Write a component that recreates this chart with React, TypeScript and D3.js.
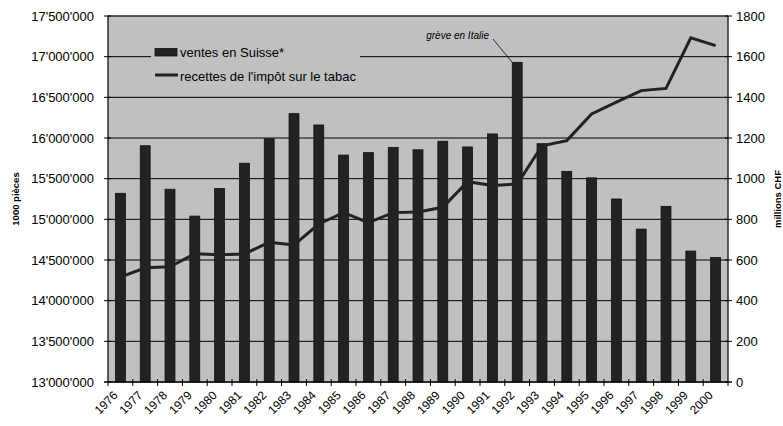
import { useEffect, useRef } from "react";
import * as d3 from "d3";

// Ventes de cigarettes en Suisse et recettes de l'impôt sur le tabac
const years = [
  "1976", "1977", "1978", "1979", "1980", "1981", "1982", "1983", "1984",
  "1985", "1986", "1987", "1988", "1989", "1990", "1991", "1992", "1993",
  "1994", "1995", "1996", "1997", "1998", "1999", "2000",
];

// 1000 pièces
const ventes = [
  15320000, 15905000, 15370000, 15040000, 15380000, 15690000, 15990000,
  16300000, 16160000, 15790000, 15820000, 15885000, 15855000, 15960000,
  15890000, 16050000, 16930000, 15930000, 15590000, 15510000, 15250000,
  14880000, 15160000, 14610000, 14530000,
];

// millions CHF
const recettes = [
  516, 562, 567, 631, 626, 630, 687, 674, 777, 833, 784, 833, 836, 859,
  985, 966, 974, 1162, 1187, 1318, 1376, 1433, 1444, 1693, 1654,
];

const leftTicks = [
  13000000, 13500000, 14000000, 14500000, 15000000, 15500000, 16000000,
  16500000, 17000000, 17500000,
];
const rightTicks = [0, 200, 400, 600, 800, 1000, 1200, 1400, 1600, 1800];

const CONFIG = {
  WIDTH: 783,
  HEIGHT: 426,
  MARGIN: { top: 16, right: 55, bottom: 44, left: 108 },
  FONT: "'Liberation Sans', Arial, Helvetica, sans-serif",
  PLOT_BG: "#c0c0c0",
  DARK: "#222222",
} as const;

const swiss = d3.formatLocale({
  decimal: ".",
  thousands: "'",
  grouping: [3],
  currency: ["", ""],
});
const fmtLeft = swiss.format(",");

export default function App() {
  const svgRef = useRef<SVGSVGElement>(null);

  useEffect(() => {
    if (!svgRef.current) return;
    const svg = d3.select(svgRef.current);
    svg.selectAll("*").remove();

    const { WIDTH, HEIGHT, MARGIN, FONT, PLOT_BG, DARK } = CONFIG;
    const x0 = MARGIN.left;
    const x1 = WIDTH - MARGIN.right;
    const y0 = HEIGHT - MARGIN.bottom;
    const y1 = MARGIN.top;

    const x = d3.scaleBand<string>().domain(years).range([x0, x1]).padding(0);
    const yL = d3.scaleLinear().domain([13000000, 17500000]).range([y0, y1]);
    const yR = d3.scaleLinear().domain([0, 1800]).range([y0, y1]);
    const barW = x.bandwidth() * 0.4;
    const cx = (d: string) => (x(d) ?? 0) + x.bandwidth() / 2;

    // plot background
    svg
      .append("rect")
      .attr("x", x0)
      .attr("y", y1)
      .attr("width", x1 - x0)
      .attr("height", y0 - y1)
      .attr("fill", PLOT_BG)
      .attr("stroke", "#808080")
      .attr("stroke-width", 1);

    // gridlines
    svg
      .append("g")
      .selectAll("line")
      .data(leftTicks)
      .enter()
      .append("line")
      .attr("x1", x0)
      .attr("x2", x1)
      .attr("y1", (d) => yL(d))
      .attr("y2", (d) => yL(d))
      .attr("stroke", "#000")
      .attr("stroke-width", 1);

    // legend box hides part of the grid
    const legend = svg.append("g");
    legend
      .append("rect")
      .attr("x", 151)
      .attr("y", 40)
      .attr("width", 209)
      .attr("height", 50)
      .attr("fill", PLOT_BG);

    // bars
    svg
      .append("g")
      .selectAll("rect")
      .data(years)
      .enter()
      .append("rect")
      .attr("x", (d) => cx(d) - barW / 2)
      .attr("width", barW)
      .attr("y", (d, i) => yL(ventes[i]))
      .attr("height", (d, i) => y0 - yL(ventes[i]))
      .attr("fill", DARK)
      .attr("stroke", "#111")
      .attr("stroke-width", 0.8);

    // line
    const line = d3
      .line<number>()
      .x((d, i) => cx(years[i]))
      .y((d) => yR(d));
    svg
      .append("path")
      .datum(recettes)
      .attr("d", line)
      .attr("fill", "none")
      .attr("stroke", DARK)
      .attr("stroke-width", 3)
      .attr("stroke-linejoin", "miter");

    // axis lines
    svg.append("line").attr("x1", x0).attr("x2", x0).attr("y1", y1).attr("y2", y0 + 4).attr("stroke", "#000");
    svg.append("line").attr("x1", x1).attr("x2", x1).attr("y1", y1).attr("y2", y0 + 4).attr("stroke", "#000");
    svg.append("line").attr("x1", x0 - 4).attr("x2", x1 + 4).attr("y1", y0).attr("y2", y0).attr("stroke", "#000");

    // left axis
    const left = svg.append("g");
    left
      .selectAll("line")
      .data(leftTicks)
      .enter()
      .append("line")
      .attr("x1", x0 - 4)
      .attr("x2", x0 + 3)
      .attr("y1", (d) => yL(d))
      .attr("y2", (d) => yL(d))
      .attr("stroke", "#000");
    left
      .selectAll("text")
      .data(leftTicks)
      .enter()
      .append("text")
      .attr("x", x0 - 14)
      .attr("y", (d) => yL(d))
      .attr("dy", "0.36em")
      .attr("text-anchor", "end")
      .attr("font-family", FONT)
      .attr("font-size", 13)
      .text((d) => fmtLeft(d));

    // right axis
    const right = svg.append("g");
    right
      .selectAll("line")
      .data(rightTicks)
      .enter()
      .append("line")
      .attr("x1", x1 - 3)
      .attr("x2", x1 + 4)
      .attr("y1", (d) => yR(d))
      .attr("y2", (d) => yR(d))
      .attr("stroke", "#000");
    right
      .selectAll("text")
      .data(rightTicks)
      .enter()
      .append("text")
      .attr("x", x1 + 8)
      .attr("y", (d) => yR(d))
      .attr("dy", "0.36em")
      .attr("text-anchor", "start")
      .attr("font-family", FONT)
      .attr("font-size", 13)
      .text((d) => String(d));

    // x axis ticks at category boundaries
    const bottom = svg.append("g");
    bottom
      .selectAll("line")
      .data(years.slice(1))
      .enter()
      .append("line")
      .attr("x1", (d) => x(d) ?? 0)
      .attr("x2", (d) => x(d) ?? 0)
      .attr("y1", y0 - 3)
      .attr("y2", y0 + 4)
      .attr("stroke", "#000");
    bottom
      .selectAll("text")
      .data(years)
      .enter()
      .append("text")
      .attr("transform", (d) => `translate(${cx(d) - 2},${y0 + 14}) rotate(-45)`)
      .attr("text-anchor", "end")
      .attr("font-family", FONT)
      .attr("font-size", 12)
      .text((d) => d);

    // axis titles
    svg
      .append("text")
      .attr("transform", `translate(18.5,${(y0 + y1) / 2}) rotate(-90)`)
      .attr("text-anchor", "middle")
      .attr("font-family", FONT)
      .attr("font-size", 9.5)
      .attr("font-weight", "bold")
      .text("1000 pièces");
    svg
      .append("text")
      .attr("transform", `translate(781,${(y0 + y1) / 2}) rotate(-90)`)
      .attr("text-anchor", "middle")
      .attr("font-family", FONT)
      .attr("font-size", 9.5)
      .attr("font-weight", "bold")
      .text("millions CHF");

    // legend content
    legend
      .append("rect")
      .attr("x", 155)
      .attr("y", 48.5)
      .attr("width", 22)
      .attr("height", 7.5)
      .attr("fill", DARK)
      .attr("stroke", "#111")
      .attr("stroke-width", 0.8);
    legend
      .append("text")
      .attr("x", 180)
      .attr("y", 56.5)
      .attr("font-family", FONT)
      .attr("font-size", 13)
      .text("ventes en Suisse*");
    legend
      .append("line")
      .attr("x1", 155)
      .attr("x2", 178)
      .attr("y1", 75)
      .attr("y2", 75)
      .attr("stroke", DARK)
      .attr("stroke-width", 3);
    legend
      .append("text")
      .attr("x", 180)
      .attr("y", 80.5)
      .attr("font-family", FONT)
      .attr("font-size", 13)
      .text("recettes de l'impôt sur le tabac");

    // annotation for 1992
    const i92 = years.indexOf("1992");
    svg
      .append("text")
      .attr("x", 489)
      .attr("y", 39)
      .attr("text-anchor", "end")
      .attr("font-family", FONT)
      .attr("font-size", 10)
      .attr("font-style", "italic")
      .text("grève en Italie");
    svg
      .append("line")
      .attr("x1", 493)
      .attr("y1", 39)
      .attr("x2", cx("1992") - barW / 2)
      .attr("y2", yL(ventes[i92]))
      .attr("stroke", "#000")
      .attr("stroke-width", 0.8);
  }, []);

  return (
    <div>
      <style>{`body{margin:0;background:#fff}`}</style>
      <svg
        ref={svgRef}
        width={CONFIG.WIDTH}
        height={CONFIG.HEIGHT}
        style={{ display: "block" }}
      />
    </div>
  );
}
